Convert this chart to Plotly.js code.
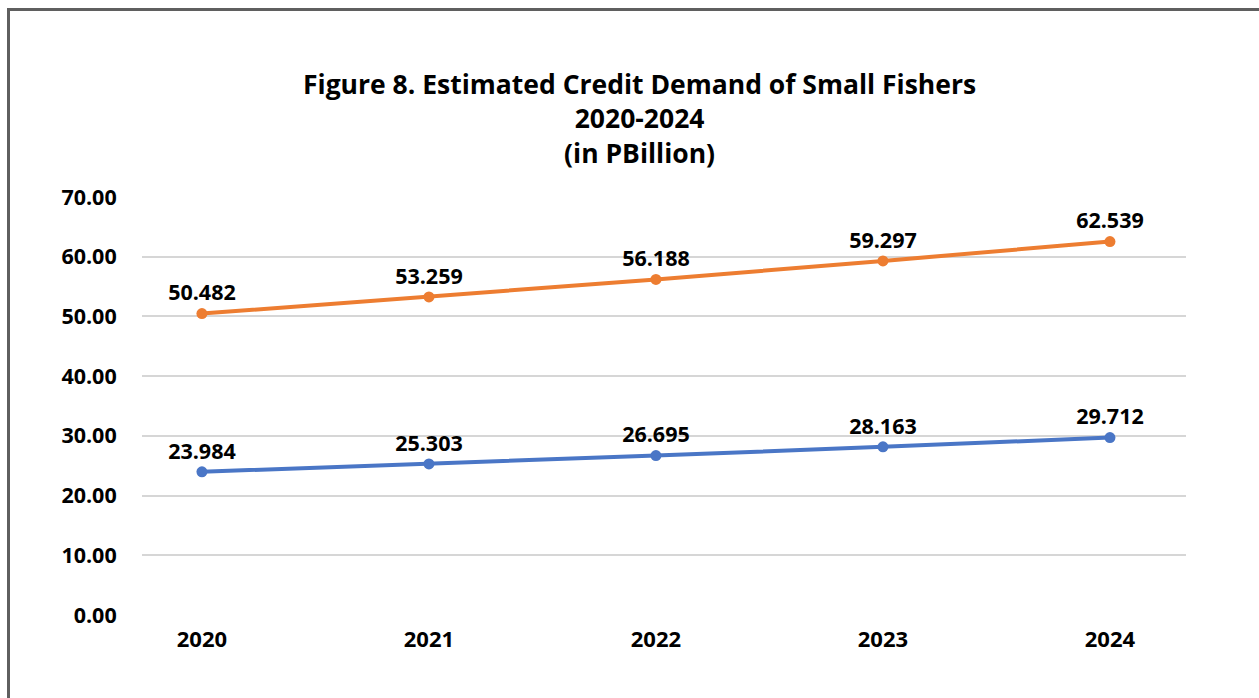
<!DOCTYPE html>
<html>
<head>
<meta charset="utf-8">
<script src="https://cdn.plot.ly/plotly-3.0.1.min.js"></script>
<style>
  html, body { margin: 0; padding: 0; width: 1259px; height: 698px; overflow: hidden; background: #ffffff; }
  #frame { position: absolute; left: 7px; top: 8px; width: 1400px; height: 900px; border: 3px solid #5f5f5f; box-sizing: border-box; }
  #chart { position: absolute; left: 0; top: 0; width: 1259px; height: 698px; }
</style>
</head>
<body>
<div id="frame"></div>
<div id="chart"></div>
<script>
const years = ["2020", "2021", "2022", "2023", "2024"];
const upperSeries = [50.482, 53.259, 56.188, 59.297, 62.539];
const lowerSeries = [23.984, 25.303, 26.695, 28.163, 29.712];
const yTicks = [0, 10, 20, 30, 40, 50, 60, 70];

const FONT = "'Open Sans', 'Noto Sans', sans-serif";

function series(values, color) {
  return {
    x: years,
    y: values,
    type: "scatter",
    mode: "lines+markers+text",
    line: { color: color, width: 4 },
    marker: { color: color, size: 11 },
    text: values.map(v => v.toFixed(3)),
    textposition: "top center",
    textfont: { family: FONT, size: 21.5, color: "#000000", weight: 700 },
    cliponaxis: false,
    hoverinfo: "x+y",
    showlegend: false
  };
}

const data = [
  series(upperSeries, "#ED7D31"),
  series(lowerSeries, "#4A76C6")
];

const layout = {
  width: 1259,
  height: 698,
  paper_bgcolor: "rgba(0,0,0,0)",
  plot_bgcolor: "rgba(0,0,0,0)",
  margin: { l: 142, r: 73, t: 197, b: 83 },
  font: { family: FONT, color: "#000000" },
  title: {
    text: "Figure 8. Estimated Credit Demand of Small Fishers<br>2020-2024<br>(in PBillion)",
    font: { family: FONT, size: 26.5, color: "#000000", weight: 700 },
    x: 0.508,
    xanchor: "center",
    xref: "container",
    y: 1 - 94 / 698,
    yanchor: "top",
    yref: "container"
  },
  xaxis: {
    type: "category",
    range: [-0.264, 4.335],
    showgrid: false,
    zeroline: false,
    showline: false,
    ticks: "outside",
    ticklen: 5,
    tickcolor: "rgba(0,0,0,0)",
    tickfont: { family: FONT, size: 22, color: "#000000", weight: 700 },
    fixedrange: true
  },
  yaxis: {
    range: [0, 70],
    tickvals: yTicks,
    tickformat: ".2f",
    showgrid: true,
    gridcolor: "#d6d6d6",
    gridwidth: 2,
    zeroline: false,
    showline: false,
    ticks: "outside",
    ticklen: 20,
    tickcolor: "rgba(0,0,0,0)",
    tickfont: { family: FONT, size: 21.5, color: "#000000", weight: 700 },
    fixedrange: true
  }
};

Plotly.newPlot("chart", data, layout, { displayModeBar: false, staticPlot: true });
</script>
</body>
</html>
